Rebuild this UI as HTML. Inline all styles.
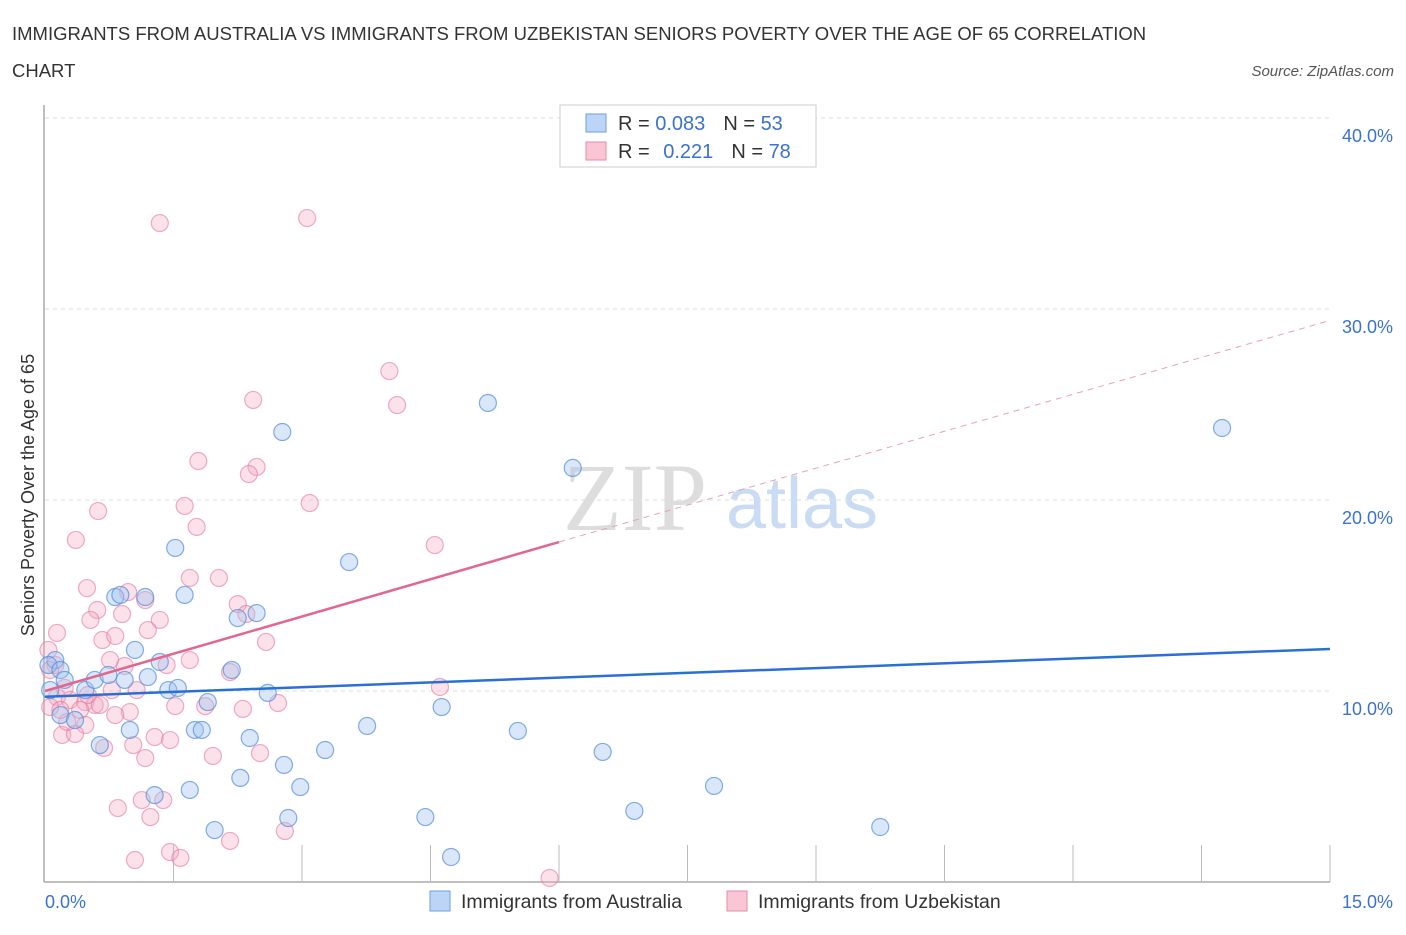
<!DOCTYPE html>
<html><head><meta charset="utf-8"><style>
body{margin:0;background:#fff;font-family:"Liberation Sans",sans-serif;}
</style></head><body>
<svg id="chart" width="1406" height="930" xmlns="http://www.w3.org/2000/svg" style="font-family:'Liberation Sans',sans-serif">
<text x="12" y="40" font-size="18.5" fill="#333">IMMIGRANTS FROM AUSTRALIA VS IMMIGRANTS FROM UZBEKISTAN SENIORS POVERTY OVER THE AGE OF 65 CORRELATION</text>
<text x="12" y="77" font-size="18.5" fill="#333">CHART</text>
<text x="1394" y="76" font-size="15" fill="#555" font-style="italic" text-anchor="end">Source: ZipAtlas.com</text>
<text x="635" y="530" font-size="96" fill="#ddd" font-family="Liberation Serif,serif" text-anchor="middle">ZIP</text>
<text x="802" y="528" font-size="72" fill="#c9dcf3" text-anchor="middle">atlas</text>
<g id="grid"></g><g id="pts"></g><g id="lines"></g>
<text transform="translate(34,495) rotate(-90)" font-size="18" fill="#333" text-anchor="middle">Seniors Poverty Over the Age of 65</text>
<text x="45" y="908" font-size="18" fill="#3a72cc">0.0%</text>
<text x="1393" y="908" font-size="18" fill="#3a72cc" text-anchor="end">15.0%</text>
<g>
<rect x="560" y="105" width="256" height="62" fill="#fff" stroke="#ccc"/>
<rect x="586" y="114" width="20" height="18" fill="#bcd4f6" stroke="#6d9fe0"/>
<rect x="586" y="142" width="20" height="18" fill="#f9c6d5" stroke="#e88aa8"/>
<text x="618" y="130" font-size="20" fill="#333">R = <tspan fill="#3a72cc">0.083</tspan><tspan dx="18">N = </tspan><tspan fill="#3a72cc">53</tspan></text>
<text x="618" y="158" font-size="20" fill="#333">R = <tspan dx="8" fill="#3a72cc">0.221</tspan><tspan dx="18">N = </tspan><tspan fill="#3a72cc">78</tspan></text>
</g>
<g>
<rect x="430" y="891" width="20" height="20" fill="#bcd4f6" stroke="#6d9fe0"/>
<text x="461" y="908" font-size="19.5" fill="#333">Immigrants from Australia</text>
<rect x="727" y="891" width="20" height="20" fill="#f9c6d5" stroke="#e88aa8"/>
<text x="758" y="908" font-size="19.5" fill="#333">Immigrants from Uzbekistan</text>
</g>
</svg>
<script>
const yTicks=[10,20,30,40];
const yTickLabels=["10.0%","20.0%","30.0%","40.0%"];
const blueX=[.12,.04,.18,.23,.18,.35,.47,.58,.64,.74,.82,.88,.93,.99,1.05,1.17,1.20,1.28,1.34,1.44,1.52,1.55,1.63,1.69,1.75,1.83,1.90,1.98,2.18,2.25,2.28,2.39,2.47,2.60,2.77,2.79,2.84,2.98,3.27,3.55,3.76,4.44,4.63,4.74,5.17,5.52,6.16,6.51,6.88,7.81,9.75,13.74,.06];
const blueY=[11.62,11.36,11.10,10.58,8.74,8.48,10.05,10.58,7.17,10.84,14.92,15.03,10.58,7.96,12.15,14.92,10.73,4.55,11.52,10.05,17.49,10.16,15.03,4.82,7.96,7.96,9.42,2.72,11.10,13.82,5.45,7.54,14.08,9.90,23.56,6.13,3.35,4.97,6.91,16.75,8.17,3.40,9.16,1.31,25.08,7.91,21.68,6.81,3.72,5.03,2.88,23.77,10.05];
const pinkX=[1.34,3.06,4.02,4.11,2.43,1.79,2.47,2.38,3.09,1.63,.62,1.77,.36,4.55,2.03,1.69,.49,.97,1.17,2.25,.61,.53,1.34,.90,2.35,1.20,.14,.67,.82,2.58,.04,.12,1.42,.93,2.16,.14,.29,.47,.58,.78,1.07,.06,.41,1.52,1.87,2.72,4.61,.99,.82,2.31,.47,.20,.35,1.28,.69,1.03,1.17,1.96,2.51,.85,1.23,1.13,1.38,2.80,2.16,1.46,1.58,1.05,5.89,.26,.64,.23,.76,.06,1.69,.50,.18,1.46];
const pinkY=[34.50,34.76,26.75,24.97,25.24,22.04,21.73,21.36,19.84,19.69,19.42,18.59,17.91,17.64,15.92,15.92,15.39,15.18,14.76,14.55,14.24,13.72,13.72,14.03,14.03,13.19,13.04,12.67,12.88,12.57,12.15,11.36,11.36,11.31,10.99,9.69,9.53,9.42,9.27,10.05,10.05,9.16,9.01,9.21,9.21,9.37,10.21,8.90,8.74,9.06,8.22,7.70,7.75,7.59,7.02,7.17,6.49,6.60,6.75,3.87,3.40,4.29,4.29,2.67,2.15,1.57,1.26,1.15,.21,8.38,9.27,10.16,11.62,11.10,11.62,9.79,9.01,7.43];
const blueTrend=[9.7,12.2];
const pinkTrend=[10.0,17.8,29.4];
const pinkSolidEnd=6.0;
const NS="http://www.w3.org/2000/svg";
const sx=v=>45+v*(1285/15);
const sy=v=>882-v*19.1;
function mk(t,a,p){const e=document.createElementNS(NS,t);for(const k in a)e.setAttribute(k,a[k]);p.appendChild(e);return e;}
const grid=document.getElementById('grid');
yTicks.forEach((t,i)=>{
 const l=mk('line',{x1:45,x2:1330,y1:sy(t),y2:sy(t),stroke:'#ddd','stroke-dasharray':'4,4'},grid);
 
 
 const tx=mk('text',{x:1393,y:sy(t)+24,'font-size':18,fill:'#3a72cc','text-anchor':'end'},grid);
 tx.textContent=yTickLabels[i];
 
 
});
const ax=mk('line',{x1:44,x2:44,y1:105,y2:882,stroke:'#aaa','stroke-width':1.5},grid);


const bx=mk('line',{x1:44,x2:1330,y1:882,y2:882,stroke:'#aaa','stroke-width':1.5},grid);


for(let i=1;i<=10;i++){const t=mk('line',{x1:sx(i*1.5),x2:sx(i*1.5),y1:845,y2:882,stroke:'#bbb'},grid);
 
 }
const pts=document.getElementById('pts');
pinkX.forEach((x,i)=>{const c=mk('circle',{cx:sx(x),cy:sy(pinkY[i]),r:8.5,fill:'rgba(244,170,195,0.35)',stroke:'rgba(230,120,155,0.6)','stroke-width':1.2},pts);
 
 });
blueX.forEach((x,i)=>{const c=mk('circle',{cx:sx(x),cy:sy(blueY[i]),r:8.5,fill:'rgba(160,195,240,0.4)',stroke:'rgba(80,140,220,0.7)','stroke-width':1.2},pts);
 
 });
const lines=document.getElementById('lines');
const b=mk('line',{x1:sx(0),y1:sy(blueTrend[0]),x2:sx(15),y2:sy(blueTrend[1]),stroke:'#2a6fd6','stroke-width':2.5},lines);


const p=mk('line',{x1:sx(0),y1:sy(pinkTrend[0]),x2:sx(pinkSolidEnd),y2:sy(pinkTrend[1]),stroke:'#e2678f','stroke-width':2.5},lines);


const pd=mk('line',{x1:sx(pinkSolidEnd),y1:sy(pinkTrend[1]),x2:sx(15),y2:sy(pinkTrend[2]),stroke:'#e9a0b8','stroke-width':1,'stroke-dasharray':'6,5'},lines);


</script>
</body></html>
